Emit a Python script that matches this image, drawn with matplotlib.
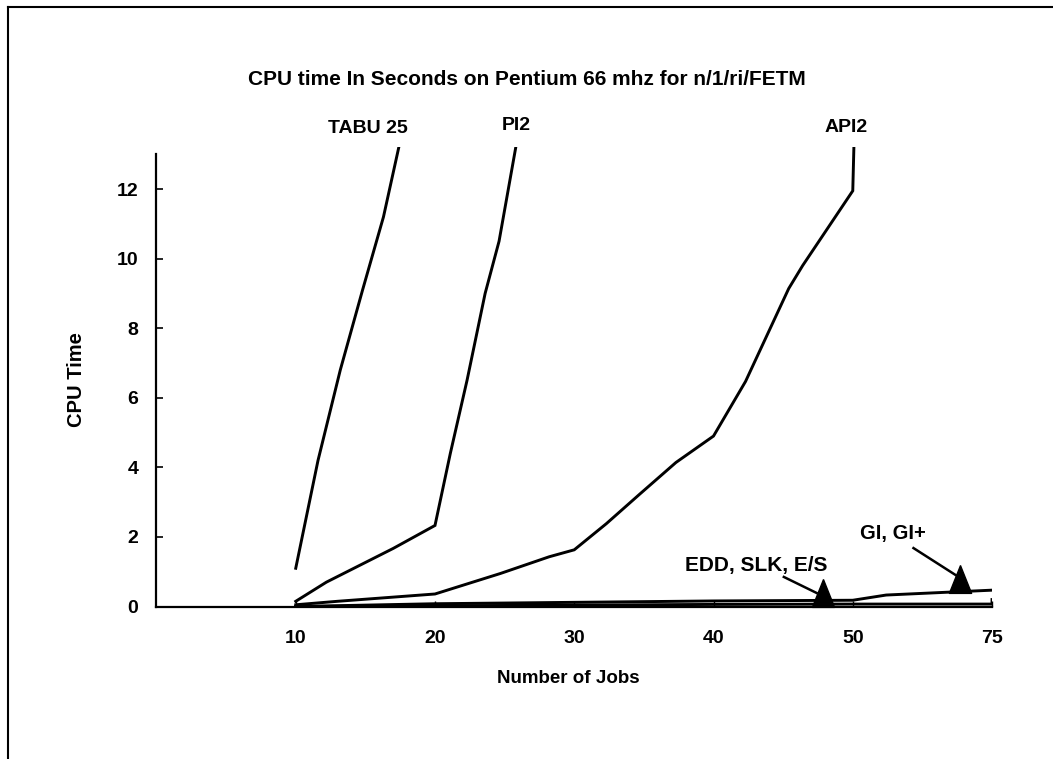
import numpy as np
import matplotlib
matplotlib.use("Agg")
import matplotlib.pyplot as plt
from matplotlib.lines import Line2D

plt.rcParams['font.family'] = ['Liberation Sans', 'DejaVu Sans']
plt.rcParams['font.weight'] = 'bold'

# x axis: job counts, ticks are evenly spaced even though 50 -> 75 is a bigger jump
job_ticks = [10, 20, 30, 40, 50, 75]
scale_jobs = [0, 10, 20, 30, 40, 50, 75]
scale_pos = [0, 1, 2, 3, 4, 5, 6]

# curves (jobs, cpu seconds)
tabu_x = [10, 11.6, 13.2, 14.8, 16.3, 17.4]
tabu_y = [1.1, 4.2, 6.8, 9.1, 11.2, 13.2]

pi2_x = [10, 12.2, 17.0, 20, 21.1, 22.3, 23.6, 24.6, 25.8]
pi2_y = [0.15, 0.7, 1.67, 2.33, 4.4, 6.5, 9.0, 10.5, 13.2]

api2_x = [10, 13, 20, 24.7, 28.2, 30, 32.3, 34.7, 37.3, 40, 42.3, 45.4, 46.4, 50, 50.2]
api2_y = [0.05, 0.15, 0.36, 0.95, 1.43, 1.63, 2.38, 3.23, 4.14, 4.9, 6.47, 9.14, 9.8, 11.95, 13.2]

gi_x = [10, 20, 30, 40, 50, 56, 75]
gi_y = [0.0, 0.08, 0.12, 0.16, 0.18, 0.33, 0.47]

edd_x = [10, 20, 30, 40, 50, 75, 75]
edd_y = [0.0, 0.02, 0.04, 0.06, 0.07, 0.07, 0.2]

# labels on top of the curves
top_labels = ['TABU 25', 'PI2', 'API2']
top_label_x = [15.2, 25.8, 49.5]
top_label_y = [13.75, 13.84, 13.78]


def fwd(x):
    return np.interp(x, scale_jobs, scale_pos)


def inv(p):
    return np.interp(p, scale_pos, scale_jobs)


fig = plt.figure(figsize=(10.53, 7.59), dpi=100)
ax = fig.add_axes([0.1486, 0.2009, 0.7935, 0.605])
ax.set_xscale('function', functions=(fwd, inv))

lw = 2.1
for xs, ys in [(tabu_x, tabu_y), (pi2_x, pi2_y), (api2_x, api2_y),
               (gi_x, gi_y), (edd_x, edd_y)]:
    ax.plot(xs, ys, color='black', lw=lw, solid_joinstyle='miter')

ax.set_xlim(0, 75)
ax.set_ylim(0, 13.2)
ax.set_xticks(job_ticks)
ax.set_xticklabels([str(t) for t in job_ticks])
ax.set_yticks([0, 2, 4, 6, 8, 10, 12])

for s in ['top', 'right']:
    ax.spines[s].set_visible(False)
ax.spines['left'].set_bounds(0, 13)
ax.spines['left'].set_linewidth(1.6)
ax.spines['bottom'].set_linewidth(1.6)

ax.tick_params(axis='y', direction='in', length=5, width=1.2, pad=13, labelsize=14)
ax.tick_params(axis='x', direction='in', length=4, width=1.0, pad=17, labelsize=14)
for lab in ax.get_xticklabels() + ax.get_yticklabels():
    lab.set_fontweight('bold')

for t, x, y in zip(top_labels, top_label_x, top_label_y):
    ax.text(x, y, t, ha='center', va='center', fontsize=14, fontweight='bold', clip_on=False)

# arrows pointing at the flat curves, old style triangle heads
tri = [(0, 1), (-0.8, -1), (0.8, -1), (0, 1)]
ax.text(43.05, 1.19, 'EDD, SLK, E/S', ha='center', va='center', fontsize=15, fontweight='bold')
ax.plot([45.05, 47.4], [0.85, 0.39], color='black', lw=1.8)
ax.plot([47.85], [0.38], marker=tri, ms=20, color='black', clip_on=False)

ax.text(57.2, 2.11, 'GI, GI+', ha='center', va='center', fontsize=14.5, fontweight='bold')
ax.plot([60.9, 69.0], [1.68, 0.85], color='black', lw=1.8)
ax.plot([69.2], [0.8], marker=tri, ms=20, color='black', clip_on=False)

fig.text(0.5005, 0.8946, 'CPU time In Seconds on Pentium 66 mhz for n/1/ri/FETM',
         ha='center', va='center', fontsize=15, fontweight='bold')
fig.text(0.073, 0.4993, 'CPU Time', rotation=90, ha='center', va='center',
         fontsize=14.5, fontweight='bold')
fig.text(0.5394, 0.1067, 'Number of Jobs', ha='center', va='center',
         fontsize=13.5, fontweight='bold')

# frame lines on the top and left edge of the scan
fig.add_artist(Line2D([8 / 1053, 1], [1 - 7 / 759, 1 - 7 / 759], color='black', lw=1.5))
fig.add_artist(Line2D([8 / 1053, 8 / 1053], [0, 1 - 7 / 759], color='black', lw=1.5))

fig.savefig('out.png', dpi=100)
